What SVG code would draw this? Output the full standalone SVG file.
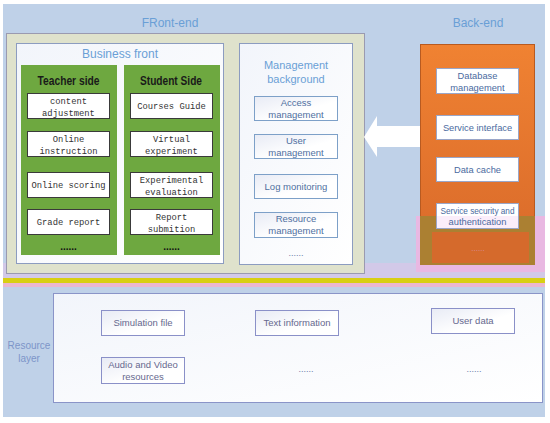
<svg xmlns="http://www.w3.org/2000/svg" width="550" height="423" viewBox="0 0 550 423">
<defs>
<linearGradient id="og" x1="0" y1="0" x2="0" y2="1"><stop offset="0" stop-color="#f08232"/><stop offset="1" stop-color="#d8692a"/></linearGradient>
<linearGradient id="sb" x1="0" y1="0" x2="1" y2="1"><stop offset="0" stop-color="#e8ebf5"/><stop offset="0.6" stop-color="#ffffff"/></linearGradient>
<linearGradient id="wb" x1="0" y1="0" x2="1" y2="1"><stop offset="0" stop-color="#f2f5fb"/><stop offset="1" stop-color="#ffffff"/></linearGradient>
<style>
.t{font-family:"Liberation Sans",Arial,sans-serif;text-anchor:middle}
.m{font-family:"Liberation Mono","Courier New",monospace;font-size:8.8px;fill:#333;text-anchor:middle}
.ttl{fill:#6a9fd6;font-size:12px}
.hd{font-size:12.5px;font-weight:bold;fill:#1a1a1a}
.wb{fill:#fff;stroke:#3a3a3a;stroke-width:1}
.sb{fill:url(#sb);stroke:#7da0c8;stroke-width:1}
.st{fill:#4f6f9f;font-size:9.5px}
.bb{fill:#fff;stroke:#9aa6c8;stroke-width:1}
.bt{fill:#4a6aa0;font-size:9.3px}
.rb{fill:url(#sb);stroke:#8a90c8;stroke-width:1}
.rt{fill:#66688e;font-size:9.5px}
.dots{fill:#6a7aa8;font-size:9px}
</style>
</defs>
<rect x="3" y="4" width="542" height="413" fill="#bfd1e8"/>
<rect x="3" y="263" width="542" height="16" fill="#d2c9e8"/>
<rect x="3" y="278" width="542" height="5" fill="#d8cf12"/>
<rect x="3" y="283" width="542" height="4" fill="#ebb7cf"/>
<text class="t ttl" x="170" y="27" font-size="13">FRont-end</text>
<text class="t ttl" x="478" y="27" font-size="13">Back-end</text>
<g id="frontend">
<rect x="6.5" y="33.5" width="358" height="240" fill="#dfe2cc" stroke="#9a9ab0"/>
</g>
<g id="business-front">
<rect x="16.5" y="43.5" width="207" height="220" fill="url(#wb)" stroke="#8c9cc0"/>
<text class="t ttl" x="120" y="58">Business front</text>
</g>
<g id="teacher-side">
<rect x="21" y="65" width="96" height="190" fill="#6ea840"/>
<text class="t hd" x="68.5" y="85" textLength="62" lengthAdjust="spacingAndGlyphs">Teacher side</text>
<rect class="wb" x="27.5" y="93.5" width="82" height="25"/>
<text class="m" x="68.5" y="103.5">content</text>
<text class="m" x="68.5" y="115.5">adjustment</text>
<rect class="wb" x="27.5" y="131.5" width="82" height="25"/>
<text class="m" x="68.5" y="141.5">Online</text>
<text class="m" x="68.5" y="153.5">instruction</text>
<rect class="wb" x="27.5" y="172.5" width="82" height="25"/>
<text class="m" x="68.5" y="188">Online scoring</text>
<rect class="wb" x="27.5" y="209.5" width="82" height="25"/>
<text class="m" x="68.5" y="225">Grade report</text>
<text class="t" x="68.5" y="250" font-size="10" font-weight="bold" fill="#111">......</text>
</g>
<g id="student-side">
<rect x="124" y="65" width="96" height="190" fill="#6ea840"/>
<text class="t hd" x="171" y="85" textLength="62" lengthAdjust="spacingAndGlyphs">Student Side</text>
<rect class="wb" x="130.5" y="93.5" width="82" height="25"/>
<text class="m" x="171.5" y="109">Courses Guide</text>
<rect class="wb" x="130.5" y="131.5" width="82" height="25"/>
<text class="m" x="171.5" y="141.5">Virtual</text>
<text class="m" x="171.5" y="153.5">experiment</text>
<rect class="wb" x="130.5" y="172.5" width="82" height="25"/>
<text class="m" x="171.5" y="182.5">Experimental</text>
<text class="m" x="171.5" y="194.5">evaluation</text>
<rect class="wb" x="130.5" y="209.5" width="82" height="25"/>
<text class="m" x="171.5" y="219.5">Report</text>
<text class="m" x="171.5" y="231.5">submition</text>
<text class="t" x="171.5" y="250" font-size="10" font-weight="bold" fill="#111">......</text>
</g>
<g id="management-background">
<rect x="239.5" y="43.5" width="113" height="221" fill="url(#wb)" stroke="#8c9cc0"/>
<text class="t" x="296" y="69" font-size="11" fill="#6a9fd6">Management</text>
<text class="t" x="296" y="83" font-size="11" fill="#6a9fd6">background</text>
<rect class="sb" x="254.5" y="96.5" width="83" height="24"/>
<text class="t st" x="296" y="106">Access</text>
<text class="t st" x="296" y="118">management</text>
<rect class="sb" x="254.5" y="134.5" width="83" height="24"/>
<text class="t st" x="296" y="144">User</text>
<text class="t st" x="296" y="156">management</text>
<rect class="sb" x="254.5" y="174.5" width="83" height="24"/>
<text class="t st" x="296" y="190">Log monitoring</text>
<rect class="sb" x="254.5" y="212.5" width="83" height="25"/>
<text class="t st" x="296" y="222">Resource</text>
<text class="t st" x="296" y="234">management</text>
<text class="t dots" x="296" y="256">......</text>
</g>
<g id="connectors">
<polygon points="364,137 377,116 377,126 420,126 420,147 377,147 377,157" fill="#ffffff"/>
</g>
<g id="back-end">
<rect x="420.5" y="44.5" width="114" height="220" fill="url(#og)" stroke="#b85a20"/>
<rect class="bb" x="436.5" y="68.5" width="82" height="25"/>
<text class="t bt" x="477.5" y="78.5">Database</text>
<text class="t bt" x="477.5" y="90.5">management</text>
<rect class="bb" x="436.5" y="115.5" width="82" height="24"/>
<text class="t bt" x="477.5" y="131">Service interface</text>
<rect class="bb" x="436.5" y="157.5" width="82" height="24"/>
<text class="t bt" x="477.5" y="173">Data cache</text>
<rect x="416" y="216" width="129" height="56" fill="#e9b8e2"/>
<rect x="420" y="216" width="115" height="49" fill="#ab8032"/>
<rect x="432" y="232" width="97" height="31" fill="#d56a2c"/>
<rect x="436.5" y="203.5" width="82" height="25" fill="#fff" stroke="#9aa6c8"/>
<rect x="437" y="216" width="81" height="12" fill="#fbeefa"/>
<text class="t bt" x="477.5" y="213.5" font-size="9" textLength="74" lengthAdjust="spacingAndGlyphs">Service security and</text>
<text class="t bt" x="477.5" y="225" font-size="9">authentication</text>
<text class="t" x="478" y="251" font-size="8" fill="#d88aa0">......</text>
</g>
<g id="resource-layer">
<rect x="53.5" y="293.5" width="489" height="109" fill="url(#wb)" stroke="#8a94c8"/>
<text class="t" x="29" y="349" font-size="10" fill="#7d95c8">Resource</text>
<text class="t" x="29" y="362" font-size="10" fill="#7d95c8">layer</text>
<rect class="rb" x="101.5" y="310.5" width="83" height="25"/>
<text class="t rt" x="143" y="326">Simulation file</text>
<rect class="rb" x="101.5" y="357.5" width="83" height="26"/>
<text class="t rt" x="143" y="367.5">Audio and Video</text>
<text class="t rt" x="143" y="380">resources</text>
<rect class="rb" x="255.5" y="310.5" width="83" height="25"/>
<text class="t rt" x="297" y="326">Text information</text>
<rect class="rb" x="431.5" y="308.5" width="83" height="25"/>
<text class="t rt" x="473" y="324">User data</text>
<text class="t dots" x="306" y="372">......</text>
<text class="t dots" x="474" y="372">......</text>
</g>
</svg>
